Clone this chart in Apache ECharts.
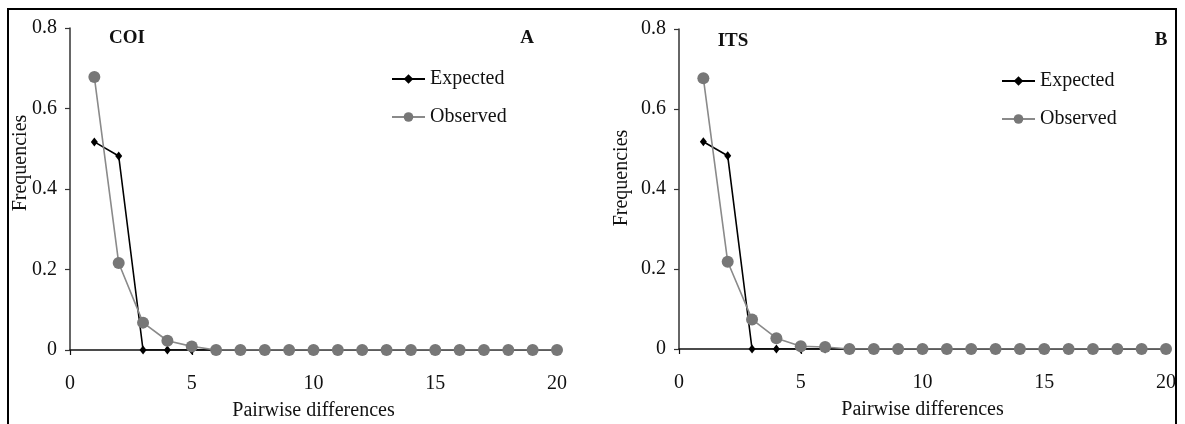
<!DOCTYPE html>
<html>
<head>
<meta charset="utf-8">
<script src="https://cdn.jsdelivr.net/npm/echarts@6/dist/echarts.min.js"></script>
<style>
html,body{margin:0;padding:0;background:#fff;}
#chart{width:1185px;height:424px;}
</style>
</head>
<body>
<div id="chart"></div>
<script>
// ---- data ----
const diffs = [1,2,3,4,5,6,7,8,9,10,11,12,13,14,15,16,17,18,19,20];
const coiExpected = [0.517,0.482,0,0,0,0,0,0,0,0,0,0,0,0,0,0,0,0,0,0];
const coiObserved = [0.678,0.216,0.068,0.023,0.009,0,0,0,0,0,0,0,0,0,0,0,0,0,0,0];
const itsExpected = [0.518,0.483,0,0,0,0,0,0,0,0,0,0,0,0,0,0,0,0,0,0];
const itsObserved = [0.677,0.218,0.074,0.027,0.007,0.005,0,0,0,0,0,0,0,0,0,0,0,0,0,0];
const yTicks = [0, 0.2, 0.4, 0.6, 0.8];
const xTicks = [0, 5, 10, 15, 20];
const seriesNames = ['Expected', 'Observed'];
const panelTitles = ['COI', 'ITS'];
const panelLetters = ['A', 'B'];
const xAxisTitle = 'Pairwise differences';
const yAxisTitle = 'Frequencies';

const FONT = '"Liberation Serif", "Times New Roman", serif';
const pairs = (ys) => diffs.map((x, i) => [x, ys[i]]);

function xAxisCfg(gi) {
  return {
    type: 'value', gridIndex: gi, min: xTicks[0], max: xTicks[xTicks.length-1],
    interval: xTicks[1]-xTicks[0],
    name: xAxisTitle, nameLocation: 'middle', nameGap: 51,
    nameTextStyle: {fontFamily: FONT, fontSize: 20, color: '#111'},
    axisLine: {show: true, onZero: true, lineStyle: {color: '#111', width: 1.5}},
    axisTick: {show: true, length: 5, inside: false, lineStyle: {color: '#111', width: 1.2}},
    axisLabel: {fontFamily: FONT, fontSize: 20, color: '#111', margin: 24},
    splitLine: {show: false}
  };
}
function yAxisCfg(gi) {
  return {
    type: 'value', gridIndex: gi, min: yTicks[0], max: yTicks[yTicks.length-1],
    interval: yTicks[1]-yTicks[0],
    axisLine: {show: true, lineStyle: {color: '#333', width: 1.5}},
    axisTick: {show: true, length: 5, lineStyle: {color: '#333', width: 1.2}},
    axisLabel: {fontFamily: FONT, fontSize: 20, color: '#111', margin: 13},
    splitLine: {show: false}
  };
}
function expSeries(gi, ys) {
  return {
    name: seriesNames[0], type: 'line', xAxisIndex: gi, yAxisIndex: gi,
    data: pairs(ys), symbol: 'diamond', symbolSize: [7, 9],
    lineStyle: {color: '#000', width: 1.6}, itemStyle: {color: '#000'},
    animation: false, z: 2
  };
}
function obsSeries(gi, ys) {
  return {
    name: seriesNames[1], type: 'line', xAxisIndex: gi, yAxisIndex: gi,
    data: pairs(ys), symbol: 'circle', symbolSize: 12,
    lineStyle: {color: '#8a8a8a', width: 1.6}, itemStyle: {color: '#777'},
    animation: false, z: 3
  };
}
function legendCfg(left, top) {
  return {
    data: seriesNames, orient: 'vertical', left: left, top: top,
    itemWidth: 33, itemHeight: 12, itemGap: 18,
    textStyle: {fontFamily: FONT, fontSize: 20, color: '#111', lineHeight: 20}
  };
}
function txt(x, y, text, opts) {
  return {
    type: 'text', x: x, y: y, rotation: (opts && opts.rot) || 0,
    style: Object.assign({text: text, fontFamily: FONT, fontSize: 20, fill: '#111',
      align: 'center', verticalAlign: 'middle'}, opts && opts.style)
  };
}

const chart = echarts.init(document.getElementById('chart'), null, {renderer: 'canvas'});
chart.setOption({
  backgroundColor: '#fff',
  animation: false,
  grid: [
    {left: 70, right: 628, top: 28, bottom: 74, containLabel: false, outerBoundsMode: 'none'},
    {left: 679, right: 19, top: 29, bottom: 75, containLabel: false, outerBoundsMode: 'none'}
  ],
  xAxis: [xAxisCfg(0), xAxisCfg(1)],
  yAxis: [yAxisCfg(0), yAxisCfg(1)],
  legend: [legendCfg(386, 64), legendCfg(996, 66)],
  series: [
    expSeries(0, coiExpected), obsSeries(0, coiObserved),
    expSeries(1, itsExpected), obsSeries(1, itsObserved)
  ],
  graphic: [
    {type: 'rect', shape: {x: 8, y: 9, width: 1168, height: 430},
     style: {fill: 'none', stroke: '#000', lineWidth: 2}, silent: true},
    txt(127, 38, panelTitles[0], {style: {fontWeight: 'bold', fontSize: 19}}),
    txt(527, 38, panelLetters[0], {style: {fontWeight: 'bold', fontSize: 19}}),
    txt(733, 41, panelTitles[1], {style: {fontWeight: 'bold', fontSize: 19}}),
    txt(1161, 40, panelLetters[1], {style: {fontWeight: 'bold', fontSize: 19}}),
    txt(21, 163, yAxisTitle, {rot: Math.PI/2}),
    txt(622, 178, yAxisTitle, {rot: Math.PI/2})
  ]
});
</script>
</body>
</html>
